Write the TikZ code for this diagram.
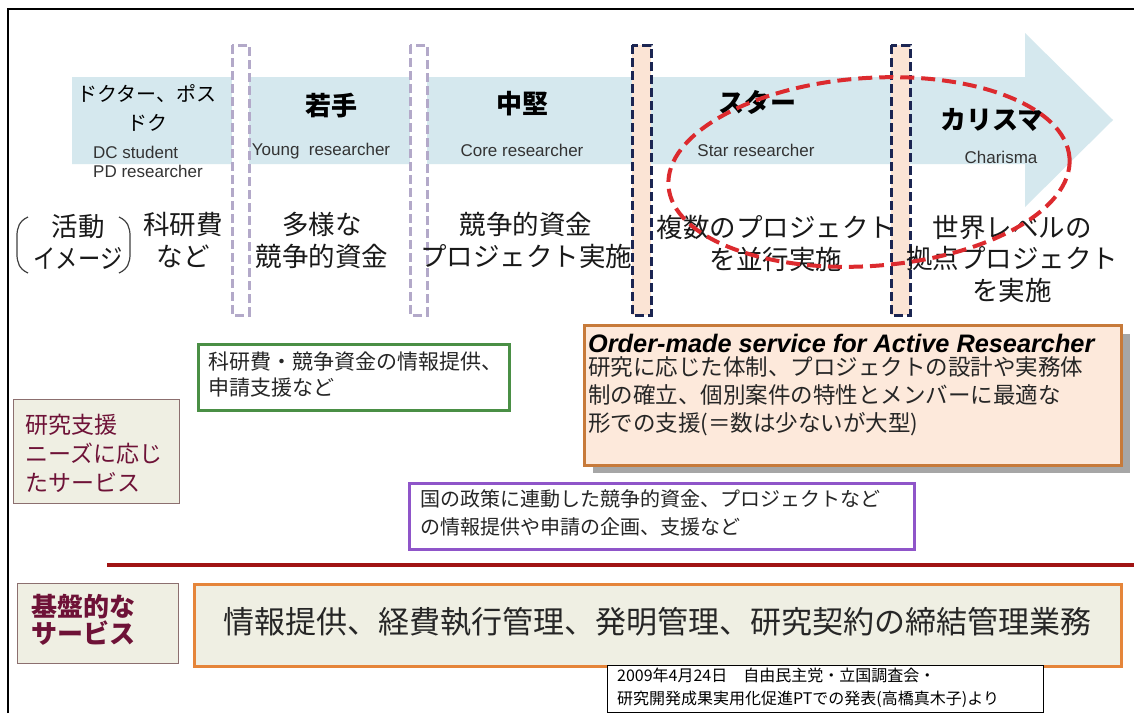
\documentclass[tikz,border=0pt]{standalone}
\usepackage{fontspec}
\setmainfont{Noto Sans CJK JP}
\newfontfamily\ar{Liberation Sans}
\usetikzlibrary{calc}
\definecolor{arrowblue}{HTML}{D5E8EE}
\definecolor{lav}{HTML}{B3A9C9}
\definecolor{navy}{HTML}{1B2552}
\definecolor{peach}{HTML}{FBE4D5}
\definecolor{ofill}{HTML}{FDE9DB}
\definecolor{oborder}{HTML}{C77A3A}
\definecolor{bborder}{HTML}{E5853A}
\definecolor{gborder}{HTML}{4A8F45}
\definecolor{pborder}{HTML}{8F55C9}
\definecolor{dred}{HTML}{A01414}
\definecolor{maroon}{HTML}{6E1237}
\definecolor{lfill}{HTML}{EFEFE3}
\definecolor{lborder}{HTML}{8C6F6F}
\definecolor{ered}{HTML}{DC2A2E}
\definecolor{engray}{HTML}{333333}
\tikzset{
  hd/.style={font=\fontsize{26}{30}\selectfont\bfseries, inner sep=0pt, text=black},
  en/.style={font=\ar\fontsize{17}{18.5}\selectfont, inner sep=0pt, text=engray},
  act/.style={font=\fontsize{26.5}{32}\selectfont, inner sep=0pt, align=center, text=black!90},
  pairline/.style={line width=3pt, dash pattern=on 9pt off 4pt},
  labelbox/.style={draw=lborder, fill=lfill, line width=1.2pt, text=maroon, align=left, inner sep=0pt},
  svcbox/.style={line width=3pt, fill=white, inner sep=0pt},
}
\begin{document}
\begin{tikzpicture}[x=1pt,y=-1pt]
\useasboundingbox (0,0) rectangle (1134,713);
\fill[white] (0,0) rectangle (1134,713);
% frame
\draw[line width=2pt] (8,713) -- (8,9) -- (1134,9);
% big arrow
\fill[arrowblue] (72,77) -- (1025,77) -- (1025,33) -- (1113,120) -- (1025,207) -- (1025,164) -- (72,164) -- cycle;
% dashed pairs
\foreach \x in {232,410}{
  \fill[white] (\x,45) rectangle (\x+17,315);
  \draw[pairline, lav] (\x,45) rectangle (\x+17,315);
}
\foreach \x in {632,891}{
  \fill[peach] (\x,45) rectangle (\x+19,315);
  \draw[pairline, navy] (\x,45) rectangle (\x+19,315);
}
% header texts
\node[font=\fontsize{20}{29}\selectfont, inner sep=0pt, align=center] (dc) at (147,108) {ドクター、ポス\\ドク};
\node[en, anchor=west, align=left] (dcen) at (93,162) {DC student\\PD researcher};
\node[hd] (young) at (331,106) {若手};
\node[en] (youngen) at (321,151) {Young\ \ researcher};
\node[hd] (core) at (522,104) {中堅};
\node[en] (coreen) at (522,150) {Core researcher};
\node[hd] (star) at (757,102) {スター};
\node[en] (staren) at (756,150) {Star researcher};
\node[hd] (char) at (992,120) {カリスマ};
\node[en] (charen) at (1001,157) {Charisma};
% activity row
\node[act] (katsu) at (78,242) {活動\\\scalebox{0.84}[1]{イメージ}};
\draw[line width=1.2pt, black!75] (28,217) .. controls (19,221) and (17,228) .. (17,236) -- (17,254) .. controls (17,262) and (19,269) .. (28,273);
\draw[line width=1.2pt, black!75] (119,217) .. controls (128,221) and (130,228) .. (130,236) -- (130,254) .. controls (130,262) and (128,269) .. (119,273);
\node[act] (a1) at (183,240) {科研費\\など};
\node[act] (a2) at (322,240) {多様な\\競争的資金};
\node[act] (a3) at (526,240) {競争的資金\\プロジェクト実施};
\node[act] (a4) at (776,243) {複数のプロジェクト\\を並行実施};
\node[act, font=\fontsize{26.5}{31.5}\selectfont] (a5) at (1012,259) {世界レベルの\\拠点プロジェクト\\を実施};
% red ellipse
\draw[ered, line width=4pt, dash pattern=on 14pt off 7pt, rotate around={4:(869,172)}] (869,172) ellipse [x radius=201, y radius=94];
% order-made box
\fill[black!35] (593,334) rectangle (1130,473);
\node[svcbox, draw=oborder, fill=ofill, minimum width=537, minimum height=140, anchor=north west] (om) at (583,324) {};
\node[anchor=west, inner sep=0pt, font=\ar\bfseries\itshape\fontsize{25.3}{28}\selectfont] (omt) at (588,343) {Order-made service for Active Researcher};
\node[anchor=west, inner sep=0pt, align=left, font=\fontsize{22.5}{28}\selectfont, text=black!85] (omb) at (588,396) {研究に応じた体制、プロジェクトの設計や実務体\\制の確立、個別案件の特性とメンバーに最適な\\形での支援(＝数は少ないが大型)};
% green box
\node[svcbox, draw=gborder, minimum width=311, minimum height=66, anchor=north west] (gb) at (197,343) {};
\node[anchor=west, inner sep=0pt, align=left, font=\fontsize{21}{26}\selectfont, text=black!85] (gbt) at (208,375) {科研費・競争資金の情報提供、\\申請支援など};
% purple box
\node[svcbox, draw=pborder, minimum width=505, minimum height=66, anchor=north west] (pb) at (408,482) {};
\node[anchor=west, inner sep=0pt, align=left, font=\fontsize{20}{28}\selectfont, text=black!85] (pbt) at (420,513) {国の政策に連動した競争的資金、プロジェクトなど\\の情報提供や申請の企画、支援など};
% label box research support
\node[labelbox, minimum width=166, minimum height=104, anchor=north west] (lb1) at (13,399) {};
\node[anchor=west, inner sep=0pt, align=left, text=maroon, font=\fontsize{23}{29}\selectfont] (lb1t) at (25,453) {研究支援\\ニーズに応じ\\たサービス};
% separator
\draw[dred, line width=4pt] (107,565) -- (1134,565);
% base services
\node[labelbox, minimum width=161, minimum height=80, anchor=north west] (lb2) at (17,583) {};
\node[anchor=west, inner sep=0pt, align=left, text=maroon, font=\fontsize{26}{27}\selectfont\bfseries] (lb2t) at (31,620) {基盤的な\\サービス};
\node[svcbox, draw=bborder, fill=lfill, minimum width=927, minimum height=82, anchor=north west] (bb) at (193,583) {};
\node[inner sep=0pt, font=\fontsize{31}{34}\selectfont, text=black!85] (bbt) at (657,622) {情報提供、経費執行管理、発明管理、研究契約の締結管理業務};
% citation
\node[draw=black, line width=1pt, fill=white, minimum width=436, minimum height=47, anchor=north west, inner sep=0pt] (cit) at (607,665) {};
\node[anchor=west, inner sep=0pt, align=left, font=\fontsize{16}{23}\selectfont] (citt) at (617,688) {2009年4月24日　自由民主党・立国調査会・\\研究開発成果実用化促進PTでの発表(高橋真木子)より};
\end{tikzpicture}
\end{document}
